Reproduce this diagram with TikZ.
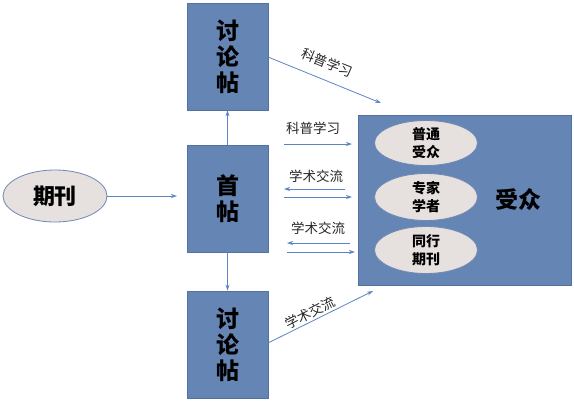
\documentclass[tikz,border=0pt]{standalone}
\usepackage{fontspec}
\newfontfamily\cjk{Noto Sans CJK SC}
\usetikzlibrary{arrows.meta,shapes.geometric}
\definecolor{boxblue}{HTML}{6585B5}
\definecolor{boxedge}{HTML}{5270A0}
\definecolor{ellfill}{HTML}{E6E0DE}
\definecolor{elledge}{HTML}{7088B4}
\definecolor{arr}{HTML}{5B84C0}
\tikzset{
  bluebox/.style={draw=boxedge, fill=boxblue, line width=0.8pt, inner sep=0pt},
  grayell/.style={ellipse, draw=elledge, fill=ellfill, line width=0.8pt, inner sep=0pt},
  conn/.style={draw=arr, line width=0.8pt, -{Stealth[length=6pt,width=4pt]}},
  lbl/.style={font=\cjk\fontsize{13.5}{14}\selectfont, text=black!85},
  bigtxt/.style={font=\cjk\bfseries\fontsize{23}{26}\selectfont, align=center},
  midtxt/.style={font=\cjk\bfseries\fontsize{14}{18}\selectfont, align=center},
}
\begin{document}
\begin{tikzpicture}[x=1pt,y=-1pt]
\useasboundingbox (0,0) rectangle (574,400);
% boxes
\node[bluebox, minimum width=81pt, minimum height=107pt, bigtxt] (top) at (227.5,56.5) {讨\\论\\帖};
\node[bluebox, minimum width=81pt, minimum height=107pt, bigtxt] (mid) at (227.5,198.5) {首\\帖};
\node[bluebox, minimum width=81pt, minimum height=107pt, bigtxt] (bot) at (227.5,344.5) {讨\\论\\帖};
\node[bluebox, minimum width=213pt, minimum height=170pt] (aud) at (464.5,200) {};
\node[font=\cjk\bfseries\fontsize{23}{26}\selectfont] (audl) at (518,200) {受众};
% ellipses
\node[grayell, minimum width=104pt, minimum height=52pt, font=\cjk\bfseries\fontsize{22}{24}\selectfont] (qk) at (55,196) {期刊};
\node[grayell, minimum width=103pt, minimum height=45pt, midtxt] (e1) at (426,143) {普通\\受众};
\node[grayell, minimum width=103pt, minimum height=47pt, midtxt] (e2) at (426,197) {专家\\学者};
\node[grayell, minimum width=103pt, minimum height=47pt, midtxt] (e3) at (426,250) {同行\\期刊};
% coordinates for arrow ends
\coordinate (a1s) at (284,144); \coordinate (a1e) at (352,144);
\coordinate (a2s) at (345,189); \coordinate (a2e) at (284,189);
\coordinate (a3s) at (284,197); \coordinate (a3e) at (352,197);
\coordinate (a4s) at (350,243); \coordinate (a4e) at (287,243);
\coordinate (a5s) at (287,252); \coordinate (a5e) at (355,252);
\coordinate (d1s) at (268,57); \coordinate (d1e) at (381,103);
\coordinate (d2s) at (268,343); \coordinate (d2e) at (373,291);
% connectors
\draw[conn] (qk.east) -- (177,196);
\draw[conn] (mid.north) -- (top.south);
\draw[conn] (mid.south) -- (bot.north);
\draw[conn] (a1s) -- (a1e);
\draw[conn] (a2s) -- (a2e);
\draw[conn] (a3s) -- (a3e);
\draw[conn] (a4s) -- (a4e);
\draw[conn] (a5s) -- (a5e);
\draw[conn] (d1s) -- (d1e);
\draw[conn] (d2s) -- (d2e);
% labels
\node[lbl] (l1) at (313,128) {科普学习};
\node[lbl] (l2) at (316,176) {学术交流};
\node[lbl] (l3) at (318,228) {学术交流};
\node[lbl, rotate=-22] (l4) at (327,63) {科普学习};
\node[lbl, rotate=27] (l5) at (310,313) {学术交流};
\end{tikzpicture}
\end{document}
